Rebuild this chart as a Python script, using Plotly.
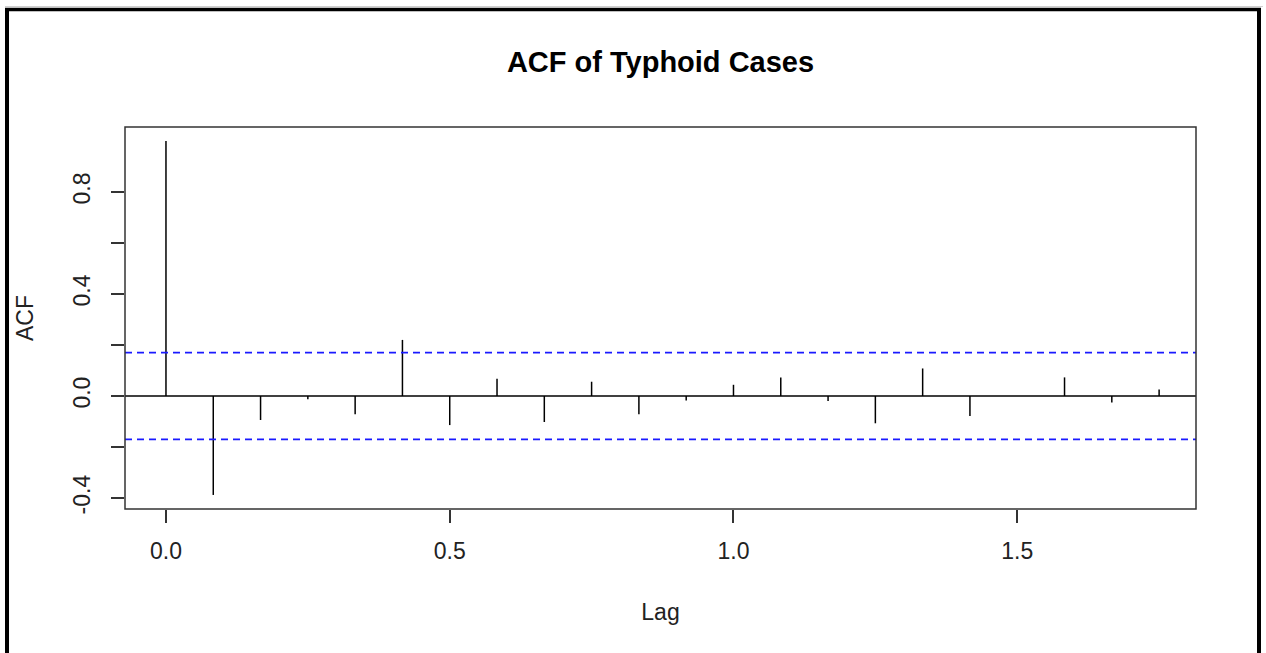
import plotly.graph_objects as go

# Data (lags in years, monthly series)
lags = [i / 12 for i in range(22)]
acf_values = [1.0, -0.388, -0.094, -0.013, -0.072, 0.22, -0.114, 0.068, -0.102, 0.056,
              -0.072, -0.018, 0.044, 0.073, -0.02, -0.107, 0.108, -0.078, 0.0, 0.073,
              -0.025, 0.026]
conf_limit = 0.17
x_ticks = [0.0, 0.5, 1.0, 1.5]
x_tick_labels = ["0.0", "0.5", "1.0", "1.5"]
y_ticks = [-0.4, -0.2, 0.0, 0.2, 0.4, 0.6, 0.8]
y_tick_labels = ["-0.4", "", "0.0", "", "0.4", "", "0.8"]

W, H = 1266, 653
ML, MR, MT, MB = 125, 70, 127, 144
PW, PH = W - ML - MR, H - MT - MB

def px_x(p):
    return (p - ML) / PW

def px_y(p):
    return (H - MB - p) / PH

# stems
sx, sy = [], []
for lag, v in zip(lags, acf_values):
    sx += [lag, lag, None]
    sy += [0, v, None]

fig = go.Figure()
fig.add_trace(go.Scatter(x=sx, y=sy, mode="lines",
                         line=dict(color="black", width=1.5),
                         hoverinfo="skip", showlegend=False))

shapes = [
    dict(type="line", xref="paper", yref="y", x0=0, x1=1, y0=0, y1=0,
         line=dict(color="black", width=1.5)),
    dict(type="line", xref="paper", yref="y", x0=0, x1=1, y0=conf_limit, y1=conf_limit,
         line=dict(color="#1a1aff", width=1.7, dash="7px,5px")),
    dict(type="line", xref="paper", yref="y", x0=0, x1=1, y0=-conf_limit, y1=-conf_limit,
         line=dict(color="#1a1aff", width=1.7, dash="7px,5px")),
    # plot box
    dict(type="rect", xref="paper", yref="paper", x0=0, x1=1, y0=0, y1=1,
         line=dict(color="#333333", width=1.5)),
    # outer frame
    dict(type="line", xref="paper", yref="paper", x0=px_x(7), x1=px_x(7),
         y0=px_y(9.5), y1=px_y(700), line=dict(color="black", width=4)),
    dict(type="line", xref="paper", yref="paper", x0=px_x(1259), x1=px_x(1259),
         y0=px_y(9.5), y1=px_y(700), line=dict(color="black", width=4)),
    dict(type="line", xref="paper", yref="paper", x0=px_x(5), x1=px_x(1261),
         y0=px_y(9.5), y1=px_y(9.5), line=dict(color="black", width=3.5)),
    dict(type="line", xref="paper", yref="paper", x0=px_x(5), x1=px_x(1263),
         y0=px_y(6.5), y1=px_y(6.5), line=dict(color="#d0d0d0", width=1)),
]

font = "Liberation Sans, Arial, sans-serif"
fig.update_layout(
    width=W, height=H,
    margin=dict(l=ML, r=MR, t=MT, b=MB),
    paper_bgcolor="white", plot_bgcolor="white",
    shapes=shapes,
    font=dict(family=font, color="#222222", size=23),
    title=dict(text="<b>ACF of Typhoid Cases</b>", x=px_x(660.5), xref="paper",
               xanchor="center", y=1 - 62 / H, yanchor="middle",
               font=dict(size=29, color="black", family=font)),
    xaxis=dict(range=[-0.0722, 1.815], tickvals=x_ticks, ticktext=x_tick_labels,
               showgrid=False, zeroline=False, showline=False,
               ticks="outside", ticklen=13, tickcolor="#333333", tickwidth=1.5,
               tickfont=dict(size=23), ticklabelstandoff=8,
               title=dict(text="Lag", font=dict(size=23), standoff=41)),
    yaxis=dict(range=[-0.4431, 1.0549], tickvals=y_ticks, ticktext=y_tick_labels,
               showgrid=False, zeroline=False, showline=False,
               ticks="outside", ticklen=13, tickcolor="#333333", tickwidth=1.5,
               tickangle=-90, tickfont=dict(size=23), ticklabelstandoff=12,
               title=dict(text="ACF", font=dict(size=23), standoff=28)),
)

fig.write_html("out.html", config={"displayModeBar": False},
               post_script="document.body.style.margin='0';")
